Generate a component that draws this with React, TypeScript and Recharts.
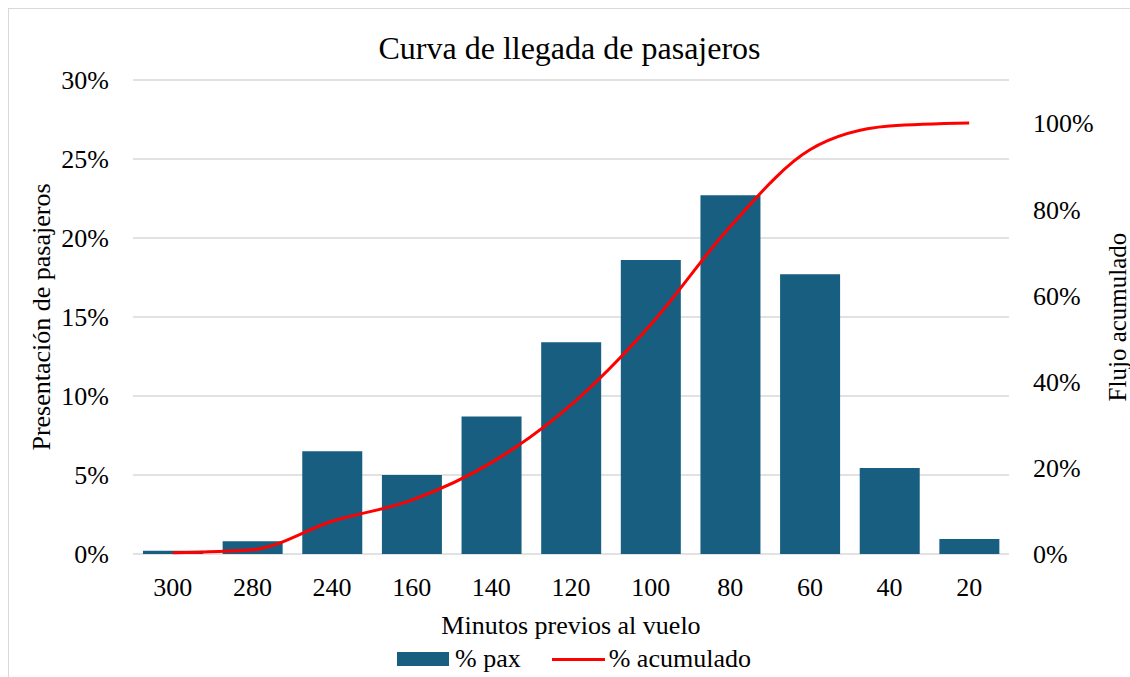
import { ComposedChart, Bar, Line, XAxis, YAxis, CartesianGrid, Label } from 'recharts';

const minutes = ['300', '280', '240', '160', '140', '120', '100', '80', '60', '40', '20'];
const paxPct = [0.2, 0.8, 6.5, 5.0, 8.7, 13.4, 18.6, 22.7, 17.7, 5.45, 0.95];
const cumulativePct = [0.3, 1.0, 7.6, 12.5, 21.2, 34.6, 53.2, 76.0, 93.8, 99.3, 100];

const leftTicks = [0, 5, 10, 15, 20, 25, 30];
const rightTicks = [0, 20, 40, 60, 80, 100];

const BAR_COLOR = '#175e80';
const LINE_COLOR = '#ff0000';
const GRID_COLOR = '#d9d9d9';
const FONT = '"Liberation Serif", "Times New Roman", serif';

const data = minutes.map((m, i) => ({ min: m, pax: paxPct[i], acum: cumulativePct[i] }));

const tickStyle = { fontFamily: FONT, fontSize: 26, fill: '#000' };

export default function App() {
  // fixed so the page never gets scrollbars (the frame runs to the window edge)
  return (
    <div
      style={{
        position: 'fixed',
        top: 8,
        left: 8,
        width: 1122,
        height: 669,
        boxSizing: 'border-box',
        borderLeft: `1px solid ${GRID_COLOR}`,
        borderTop: `1px solid ${GRID_COLOR}`,
        background: '#fff',
        fontFamily: FONT,
      }}
    >
      <div
        style={{
          position: 'absolute',
          top: 23,
          left: 0,
          width: 1121,
          textAlign: 'center',
          fontSize: 32,
          lineHeight: '32px',
          color: '#000',
        }}
      >
        Curva de llegada de pasajeros
      </div>

      <ComposedChart width={1121} height={668} data={data} margin={{ top: 71, right: 0, bottom: 0, left: 0 }}>
        <CartesianGrid yAxisId="left" vertical={false} stroke={GRID_COLOR} strokeWidth={1.5} />
        <XAxis
          dataKey="min"
          height={123}
          axisLine={false}
          tickLine={false}
          tickSize={0}
          tickMargin={24}
          tick={tickStyle}
        >
          <Label
            content={({ viewBox }: any) => (
              <text
                x={viewBox.x + viewBox.width / 2}
                y={viewBox.y + 71}
                textAnchor="middle"
                dominantBaseline="central"
                style={tickStyle}
              >
                Minutos previos al vuelo
              </text>
            )}
          />
        </XAxis>
        <YAxis
          yAxisId="left"
          width={124}
          domain={[0, 30]}
          ticks={leftTicks}
          tickFormatter={(v: number) => `${v}%`}
          axisLine={false}
          tickLine={false}
          tickSize={0}
          tickMargin={24}
          tick={tickStyle}
        >
          <Label
            content={({ viewBox }: any) => {
              const x = 32;
              const y = viewBox.y + viewBox.height / 2;
              return (
                <text
                  x={x}
                  y={y}
                  transform={`rotate(-90, ${x}, ${y})`}
                  textAnchor="middle"
                  dominantBaseline="central"
                  style={tickStyle}
                >
                  Presentación de pasajeros
                </text>
              );
            }}
          />
        </YAxis>
        <YAxis
          yAxisId="right"
          orientation="right"
          width={121}
          domain={[0, 110]}
          ticks={rightTicks}
          tickFormatter={(v: number) => `${v}%`}
          axisLine={false}
          tickLine={false}
          tickSize={0}
          tickMargin={24}
          tick={tickStyle}
        >
          <Label
            content={({ viewBox }: any) => {
              const x = viewBox.x + 108;
              const y = viewBox.y + viewBox.height / 2;
              return (
                <text
                  x={x}
                  y={y}
                  transform={`rotate(-90, ${x}, ${y})`}
                  textAnchor="middle"
                  dominantBaseline="central"
                  style={{ ...tickStyle, fontSize: 25 }}
                >
                  Flujo acumulado
                </text>
              );
            }}
          />
        </YAxis>
        <Bar yAxisId="left" dataKey="pax" name="% pax" fill={BAR_COLOR} barSize={60} isAnimationActive={false} />
        <Line
          yAxisId="right"
          type="monotone"
          dataKey="acum"
          name="% acumulado"
          stroke={LINE_COLOR}
          strokeWidth={3}
          dot={false}
          isAnimationActive={false}
        />
      </ComposedChart>

      <div
        style={{
          position: 'absolute',
          top: 636,
          left: 388,
          display: 'flex',
          alignItems: 'center',
          fontSize: 26,
          lineHeight: '28px',
          color: '#000',
          whiteSpace: 'nowrap',
        }}
      >
        <span style={{ display: 'inline-block', width: 52, height: 14, background: BAR_COLOR, marginRight: 6 }} />
        <span style={{ marginRight: 31 }}>% pax</span>
        <span style={{ display: 'inline-block', width: 53, height: 3, background: LINE_COLOR, marginRight: 4 }} />
        <span>% acumulado</span>
      </div>
    </div>
  );
}
